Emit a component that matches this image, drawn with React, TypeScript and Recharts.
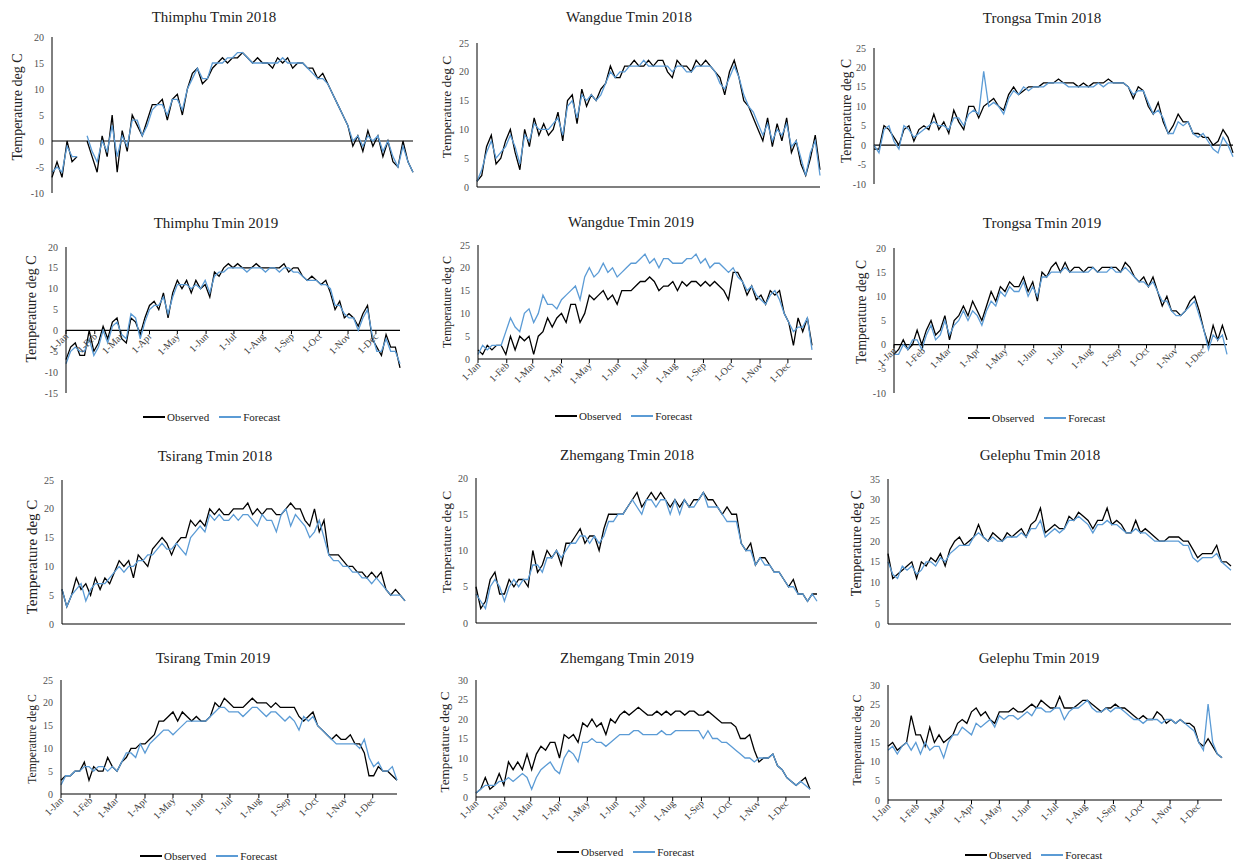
import { LineChart, Line, XAxis, YAxis, ReferenceLine } from 'recharts'

// one reading every 5 days, day 0 = 1-Jan
const STEP = 5
const MONTH_DAYS = [0, 31, 59, 90, 120, 151, 181, 212, 243, 273, 304, 334]
const MONTH_LABELS = ['1-Jan', '1-Feb', '1-Mar', '1-Apr', '1-May', '1-Jun', '1-Jul', '1-Aug', '1-Sep', '1-Oct', '1-Nov', '1-Dec']

const thimphu2018Obs = [
  -7, -4, -7, 0, -4, -3, null, 0, -3, -6,
  1, -3, 5, -6, 2, -2, 5, 3, 1, 4,
  7, 7, 8, 4, 8, 9, 5, 10, 13, 14,
  11, 12, 14, 15, 16, 15, 16, 16, 17, 16,
  15, 16, 15, 15, 14, 16, 15, 16, 14, 15,
  15, 14, 14, 12, 13, 11, 9, 7, 5, 3,
  -1, 1, -2, 2, -1, 1, -3, 0, -4, -5,
  0, -4, -6,
]
const thimphu2018Fc = [
  -6, -5, -6, -1, -3, -3, null, 1, -2, -4,
  0, -2, 3, -3, 1, -1, 4, 4, 1, 3,
  6, 7, 7, 5, 8, 8, 6, 10, 12, 14,
  12, 12, 15, 15, 15, 16, 16, 17, 17, 16,
  15, 15, 15, 15, 15, 15, 16, 15, 15, 15,
  15, 14, 13, 12, 12, 11, 9, 7, 5, 3,
  0, 1, -1, 1, 0, 1, -2, 0, -3, -5,
  -1, -4, -6,
]
const wangdue2018Obs = [
  1, 2, 7, 9, 4, 5, 8, 10, 6, 3,
  10, 7, 12, 9, 11, 9, 10, 13, 8, 15,
  16, 11, 17, 14, 16, 15, 17, 18, 21, 19,
  19, 21, 21, 22, 21, 21, 22, 21, 22, 22,
  20, 19, 22, 21, 21, 20, 22, 21, 22, 21,
  20, 19, 16, 20, 22, 19, 15, 14, 12, 10,
  8, 12, 7, 11, 8, 12, 6, 8, 4, 2,
  5, 9, 3,
]
const wangdue2018Fc = [
  1, 3, 6, 8, 5, 6, 7, 9, 7, 4,
  9, 8, 11, 10, 10, 10, 11, 12, 9, 14,
  15, 12, 16, 15, 16, 15, 16, 18, 20, 19,
  20, 20, 21, 21, 21, 22, 21, 21, 21, 21,
  21, 20, 21, 21, 20, 20, 21, 21, 21, 21,
  20, 18, 17, 19, 21, 19, 16, 14, 13, 11,
  9, 11, 8, 10, 9, 11, 7, 8, 5, 2,
  6, 8, 2,
]
const trongsa2018Obs = [
  -1, -1, 5, 4, 2, 0, 4, 5, 1, 4,
  5, 4, 8, 4, 6, 3, 9, 6, 4, 10,
  10, 7, 10, 11, 12, 10, 9, 13, 15, 13,
  14, 15, 15, 15, 16, 16, 16, 17, 16, 16,
  16, 15, 16, 15, 16, 16, 16, 17, 16, 16,
  16, 15, 12, 15, 14, 10, 8, 11, 6, 3,
  5, 8, 6, 6, 3, 3, 2, 2, 0, 1,
  4, 2, -2,
]
const trongsa2018Fc = [
  0, -2, 4, 5, 1, -1, 5, 4, 2, 3,
  4, 5, 6, 5, 5, 4, 7, 7, 5, 8,
  9, 8, 19, 10, 11, 10, 8, 12, 14, 13,
  15, 14, 15, 15, 15, 16, 16, 16, 16, 15,
  15, 15, 15, 15, 15, 16, 15, 16, 16, 16,
  16, 15, 13, 14, 14, 11, 8, 9, 7, 3,
  3, 6, 5, 6, 3, 2, 3, 1, -1, -2,
  2, 0, -3,
]
const thimphu2019Obs = [
  -7, -4, -3, -6, -6, 0, -5, -3, 1, -2,
  2, 3, -2, -3, 3, 2, -1, 3, 6, 7,
  5, 9, 3, 9, 12, 10, 12, 9, 12, 10,
  11, 8, 14, 13, 15, 16, 15, 16, 15, 15,
  15, 16, 15, 15, 15, 15, 15, 16, 14, 15,
  15, 13, 12, 13, 12, 11, 12, 9, 5, 7,
  3, 4, 3, 1, 4, 6, -2, -4, -6, -1,
  -4, -4, -9,
]
const thimphu2019Fc = [
  -8, -5, -4, -5, -5, -2, -6, -4, 0, -3,
  1, 2, -1, -2, 4, 3, -2, 2, 5, 6,
  6, 8, 4, 8, 11, 11, 11, 10, 11, 10,
  12, 9, 13, 14, 14, 15, 15, 15, 15, 14,
  15, 15, 15, 14, 15, 15, 14, 15, 15, 14,
  14, 13, 12, 12, 12, 11, 11, 10, 6, 6,
  4, 3, 3, 0, 3, 5, -1, -5, -5, -2,
  -5, -5, -8,
]
const wangdue2019Obs = [
  2, 1, 3, 2, 3, 3, 1, 5, 2, 5,
  4, 5, 1, 5, 6, 9, 7, 9, 10, 8,
  12, 12, 8, 10, 14, 13, 14, 15, 13, 14,
  12, 15, 15, 15, 16, 17, 17, 18, 17, 15,
  16, 16, 17, 15, 17, 16, 17, 17, 16, 17,
  16, 17, 16, 15, 13, 19, 19, 17, 14, 16,
  13, 14, 12, 15, 14, 15, 10, 8, 3, 9,
  6, 9, 3,
]
const wangdue2019Fc = [
  1, 3, 2, 3, 3, 3, 6, 9, 7, 6,
  10, 11, 8, 10, 14, 12, 12, 11, 13, 14,
  15, 16, 13, 18, 20, 18, 19, 21, 19, 20,
  18, 19, 20, 21, 21, 22, 23, 21, 22, 20,
  22, 22, 21, 21, 21, 22, 22, 23, 21, 22,
  20, 21, 21, 20, 19, 20, 18, 17, 15, 16,
  14, 13, 12, 14, 15, 13, 10, 8, 6, 7,
  7, 9, 2,
]
const trongsa2019Obs = [
  -2, -1, 1, -1, 0, 3, 0, 3, 5, 2,
  3, 6, 1, 5, 6, 8, 6, 9, 7, 5,
  8, 11, 9, 12, 11, 13, 12, 12, 14, 11,
  13, 9, 15, 14, 16, 17, 15, 17, 15, 16,
  16, 15, 16, 16, 15, 16, 16, 16, 16, 15,
  17, 16, 14, 13, 14, 12, 14, 11, 8, 10,
  7, 7, 6, 7, 9, 10, 7, 3, 0, 4,
  1, 4, 1,
]
const trongsa2019Fc = [
  -2, -2, 0, -1, 1, 1, -1, 2, 4, 1,
  2, 5, 2, 4, 5, 7, 5, 7, 6, 4,
  7, 9, 8, 11, 10, 12, 11, 11, 13, 10,
  12, 10, 14, 14, 15, 15, 15, 16, 15, 15,
  15, 15, 15, 16, 15, 15, 15, 16, 15, 15,
  16, 15, 14, 13, 13, 12, 13, 11, 9, 9,
  7, 6, 6, 7, 8, 9, 6, 3, -1, 2,
  1, 2, -2,
]
const tsirang2018Obs = [
  6, 3, 5, 8, 6, 7, 5, 8, 6, 8,
  7, 9, 11, 10, 11, 8, 12, 11, 10, 13,
  14, 15, 14, 12, 14, 15, 15, 18, 17, 18,
  17, 20, 19, 20, 19, 19, 20, 20, 20, 21,
  19, 20, 19, 20, 20, 19, 19, 20, 21, 20,
  20, 18, 17, 20, 16, 18, 12, 12, 12, 11,
  10, 10, 9, 9, 8, 9, 8, 9, 6, 5,
  6, 5, 4,
]
const tsirang2018Fc = [
  6, 3, 5, 6, 7, 4, 6, 7, 7, 7,
  8, 9, 10, 9, 10, 10, 11, 11, 12, 12,
  13, 14, 13, 13, 14, 13, 12, 15, 16, 17,
  16, 19, 18, 19, 18, 18, 19, 18, 19, 19,
  18, 17, 19, 18, 18, 16, 19, 20, 17, 19,
  18, 17, 15, 16, 18, 15, 12, 11, 11, 10,
  10, 9, 9, 8, 8, 7, 8, 7, 6, 5,
  5, 5, 4,
]
const zhemgang2018Obs = [
  5, 2, 3, 6, 7, 4, 4, 6, 5, 6,
  6, 5, 10, 7, 8, 10, 9, 10, 8, 11,
  11, 12, 13, 11, 12, 12, 10, 13, 15, 15,
  15, 15, 16, 17, 18, 16, 17, 18, 17, 18,
  17, 16, 17, 16, 17, 16, 17, 17, 18, 17,
  17, 16, 15, 16, 15, 15, 11, 10, 11, 8,
  9, 9, 8, 7, 7, 6, 5, 6, 4, 4,
  3, 4, 4,
]
const zhemgang2018Fc = [
  4, 3, 2, 5, 6, 5, 3, 5, 6, 5,
  6, 6, 8, 8, 7, 9, 9, 10, 9, 10,
  11, 11, 12, 12, 11, 12, 11, 12, 14, 14,
  15, 15, 16, 17, 16, 15, 17, 17, 16, 17,
  17, 15, 17, 15, 17, 16, 16, 17, 18, 16,
  16, 16, 15, 14, 14, 14, 11, 10, 10, 8,
  9, 8, 8, 7, 7, 6, 5, 5, 4, 4,
  3, 4, 3,
]
const gelephu2018Obs = [
  17, 11, 12, 13, 14, 15, 11, 15, 14, 16,
  15, 17, 14, 18, 20, 21, 19, 20, 21, 24,
  21, 20, 22, 21, 20, 22, 21, 22, 23, 21,
  24, 25, 28, 22, 23, 24, 23, 23, 26, 25,
  27, 26, 25, 23, 25, 25, 28, 24, 25, 24,
  22, 22, 25, 22, 23, 22, 21, 20, 20, 21,
  21, 21, 20, 20, 18, 16, 17, 17, 17, 19,
  15, 15, 14,
]
const gelephu2018Fc = [
  15, 12, 11, 14, 13, 14, 12, 13, 15, 15,
  14, 16, 15, 17, 18, 19, 19, 19, 21, 22,
  21, 20, 21, 20, 20, 21, 21, 21, 22, 21,
  23, 23, 25, 21, 22, 23, 22, 23, 25, 25,
  26, 25, 24, 22, 24, 24, 25, 24, 24, 23,
  22, 22, 23, 22, 22, 21, 20, 20, 20, 20,
  20, 20, 19, 19, 16, 15, 16, 16, 16, 17,
  15, 14, 13,
]
const tsirang2019Obs = [
  3, 4, 4, 5, 5, 7, 3, 6, 5, 5,
  8, 6, 5, 7, 8, 10, 10, 11, 11, 12,
  13, 16, 16, 17, 18, 16, 18, 17, 16, 17,
  16, 16, 17, 20, 19, 21, 20, 19, 19, 19,
  20, 21, 20, 20, 20, 19, 20, 19, 19, 19,
  19, 17, 16, 17, 18, 15, 14, 13, 12, 13,
  12, 12, 13, 11, 11, 9, 4, 4, 6, 5,
  5, 4, 3,
]
const tsirang2019Fc = [
  2, 4, 4, 5, 5, 6, 6, 5, 6, 6,
  5, 6, 5, 7, 9, 9, 8, 11, 9, 11,
  12, 13, 14, 14, 13, 14, 15, 16, 16, 16,
  16, 16, 17, 18, 19, 19, 18, 18, 18, 17,
  18, 19, 19, 18, 17, 18, 18, 17, 16, 17,
  16, 14, 17, 16, 17, 15, 14, 13, 12, 11,
  11, 11, 11, 11, 10, 12, 8, 6, 7, 5,
  5, 6, 3,
]
const zhemgang2019Obs = [
  1, 2, 5, 2, 3, 6, 3, 9, 7, 9,
  7, 11, 7, 11, 13, 12, 14, 14, 10, 16,
  15, 16, 14, 19, 18, 20, 18, 19, 16, 20,
  19, 21, 22, 21, 22, 23, 22, 21, 21, 22,
  21, 22, 21, 22, 22, 21, 22, 22, 21, 21,
  22, 21, 20, 19, 19, 19, 18, 15, 15, 16,
  12, 9, 10, 10, 11, 8, 7, 5, 4, 3,
  4, 5, 2,
]
const zhemgang2019Fc = [
  1, 2, 3, 3, 3, 4, 4, 5, 4, 5,
  6, 5, 2, 5, 7, 8, 9, 7, 6, 10,
  12, 11, 9, 14, 14, 15, 14, 14, 13, 14,
  15, 16, 16, 16, 17, 17, 16, 16, 16, 16,
  17, 16, 16, 17, 17, 17, 17, 17, 17, 15,
  17, 15, 15, 14, 14, 13, 12, 11, 10, 10,
  9, 10, 10, 10, 11, 8, 7, 5, 4, 3,
  4, 3, 2,
]
const gelephu2019Obs = [
  14, 15, 13, 14, 15, 22, 17, 17, 14, 19,
  15, 17, 15, 16, 17, 20, 21, 20, 23, 24,
  22, 23, 21, 20, 23, 23, 23, 24, 23, 23,
  24, 25, 24, 26, 25, 24, 24, 27, 24, 24,
  24, 25, 26, 26, 25, 24, 23, 24, 24, 25,
  24, 24, 23, 22, 21, 22, 21, 21, 23, 22,
  20, 21, 20, 21, 20, 20, 19, 15, 14, 16,
  14, 12, 11,
]
const gelephu2019Fc = [
  13, 14, 12, 14, 15, 13, 15, 12, 15, 13,
  14, 14, 11, 15, 17, 17, 19, 18, 17, 20,
  19, 20, 21, 19, 22, 21, 22, 22, 21, 22,
  23, 22, 24, 24, 23, 23, 24, 24, 21, 23,
  24, 24, 25, 26, 24, 23, 23, 24, 23, 24,
  24, 23, 22, 21, 21, 20, 21, 21, 21, 20,
  21, 21, 20, 21, 20, 19, 18, 15, 13, 25,
  15, 12, 11,
]

type Series = (number | null)[]

interface Panel {
  title: string
  obs: Series
  fc: Series
  min: number
  max: number
  // plot rectangle on the page
  x0: number
  x1: number
  yTop: number
  yBot: number
  titleX: number
  titleY: number
  labelX: number
  labelY: number
  labelSize: number
  months?: boolean
  legend?: { x: number; y: number }
}

const PANELS: Panel[] = [
  { title: 'Thimphu Tmin 2018', obs: thimphu2018Obs, fc: thimphu2018Fc, min: -10, max: 20, x0: 52, x1: 413, yTop: 37, yBot: 193, titleX: 214, titleY: 17, labelX: 18, labelY: 107, labelSize: 14 },
  { title: 'Wangdue Tmin 2018', obs: wangdue2018Obs, fc: wangdue2018Fc, min: 0, max: 25, x0: 477, x1: 820, yTop: 43, yBot: 187, titleX: 629, titleY: 17, labelX: 447, labelY: 107, labelSize: 13.4 },
  { title: 'Trongsa Tmin 2018', obs: trongsa2018Obs, fc: trongsa2018Fc, min: -10, max: 25, x0: 874, x1: 1233, yTop: 48, yBot: 184, titleX: 1042, titleY: 18, labelX: 847, labelY: 111, labelSize: 13.6 },
  { title: 'Thimphu Tmin 2019', obs: thimphu2019Obs, fc: thimphu2019Fc, min: -15, max: 20, x0: 66, x1: 400, yTop: 247, yBot: 394, titleX: 216, titleY: 223, labelX: 32, labelY: 309, labelSize: 14, months: true, legend: { x: 143, y: 417 } },
  { title: 'Wangdue Tmin 2019', obs: wangdue2019Obs, fc: wangdue2019Fc, min: 0, max: 25, x0: 478, x1: 812, yTop: 245, yBot: 359, titleX: 631, titleY: 222, labelX: 447, labelY: 302, labelSize: 12, months: true, legend: { x: 555, y: 416 } },
  { title: 'Trongsa Tmin 2019', obs: trongsa2019Obs, fc: trongsa2019Fc, min: -10, max: 20, x0: 894, x1: 1227, yTop: 248, yBot: 394, titleX: 1042, titleY: 223, labelX: 862, labelY: 312, labelSize: 13.6, months: true, legend: { x: 968, y: 418 } },
  { title: 'Tsirang Tmin 2018', obs: tsirang2018Obs, fc: tsirang2018Fc, min: 0, max: 25, x0: 62, x1: 405, yTop: 480, yBot: 624, titleX: 215, titleY: 456, labelX: 32, labelY: 557, labelSize: 15 },
  { title: 'Zhemgang Tmin 2018', obs: zhemgang2018Obs, fc: zhemgang2018Fc, min: 0, max: 20, x0: 476, x1: 817, yTop: 478, yBot: 623, titleX: 627, titleY: 455, labelX: 447, labelY: 542, labelSize: 13.4 },
  { title: 'Gelephu Tmin 2018', obs: gelephu2018Obs, fc: gelephu2018Fc, min: 0, max: 35, x0: 888, x1: 1231, yTop: 479, yBot: 624, titleX: 1040, titleY: 455, labelX: 857, labelY: 543, labelSize: 13.9 },
  { title: 'Tsirang Tmin 2019', obs: tsirang2019Obs, fc: tsirang2019Fc, min: 0, max: 25, x0: 61, x1: 397, yTop: 680, yBot: 794, titleX: 213, titleY: 658, labelX: 32, labelY: 739, labelSize: 11.7, months: true, legend: { x: 140, y: 856 } },
  { title: 'Zhemgang Tmin 2019', obs: zhemgang2019Obs, fc: zhemgang2019Fc, min: 0, max: 30, x0: 476, x1: 810, yTop: 680, yBot: 797, titleX: 627, titleY: 658, labelX: 445, labelY: 742, labelSize: 13.2, months: true, legend: { x: 557, y: 852 } },
  { title: 'Gelephu Tmin 2019', obs: gelephu2019Obs, fc: gelephu2019Fc, min: 0, max: 30, x0: 888, x1: 1222, yTop: 685, yBot: 800, titleX: 1039, titleY: 658, labelX: 857, labelY: 740, labelSize: 11.9, months: true, legend: { x: 965, y: 855 } },
]

const FONT = '"Liberation Serif", "Times New Roman", serif'
const OBS_COLOR = '#000000'
const FC_COLOR = '#5b9bd5'
const YW = 34
const MT = 6
const MR = 6
const MB = 8

function MonthTick(props: any) {
  const { x, y, payload, zeroOff } = props
  const label = MONTH_LABELS[MONTH_DAYS.indexOf(payload.value)]
  const yz = y - zeroOff
  return (
    <g>
      <line x1={x} x2={x} y1={yz} y2={yz + 4} stroke="#000" strokeWidth={1} />
      <text
        transform={`translate(${x + 3},${yz + 7}) rotate(-45)`}
        textAnchor="end"
        fontSize={10}
        fill="#404040"
      >
        {label}
      </text>
    </g>
  )
}

function TempPanel({ p }: { p: Panel }) {
  const data = p.obs.map((v, i) => ({ day: i * STEP, obs: v, fc: p.fc[i] }))
  const plotH = p.yBot - p.yTop
  const xh = p.months && p.min === 0 ? 40 : 0
  const mb = xh === 0 ? MB : 0
  const width = YW + (p.x1 - p.x0) + MR
  const height = MT + plotH + xh + mb
  const yTicks: number[] = []
  for (let t = p.min; t <= p.max; t += 5) yTicks.push(t)
  const zeroOff = (plotH * (0 - p.min)) / (p.max - p.min)

  return (
    <>
      <div
        style={{
          position: 'absolute', left: p.titleX, top: p.titleY,
          transform: 'translate(-50%, -50%)', whiteSpace: 'nowrap',
          fontSize: 15, color: '#222',
        }}
      >
        {p.title}
      </div>
      <div
        style={{
          position: 'absolute', left: p.labelX, top: p.labelY,
          transform: 'translate(-50%, -50%) rotate(-90deg)', whiteSpace: 'nowrap',
          fontSize: p.labelSize, color: '#222',
        }}
      >
        Temperature deg C
      </div>
      <div style={{ position: 'absolute', left: p.x0 - YW, top: p.yTop - MT }}>
        <LineChart width={width} height={height} data={data} margin={{ top: MT, right: MR, bottom: mb, left: 0 }}>
          <XAxis
            type="number"
            dataKey="day"
            domain={[0, 360]}
            ticks={MONTH_DAYS}
            interval={0}
            hide={!p.months}
            height={p.months ? Math.max(xh, 1) : 0}
            axisLine={false}
            tickLine={false}
            tickSize={0}
            tickMargin={0}
            tick={(tp: any) => <MonthTick {...tp} zeroOff={zeroOff} />}
          />
          <YAxis
            width={YW}
            domain={[p.min, p.max]}
            ticks={yTicks}
            interval={0}
            tickLine={false}
            tickSize={0}
            tickMargin={8}
            axisLine={{ stroke: '#000' }}
            tick={{ fontSize: 10, fill: '#505050' }}
          />
          <ReferenceLine y={0} stroke="#000" strokeWidth={1.2} />
          <Line type="linear" dataKey="obs" stroke={OBS_COLOR} strokeWidth={1.3} dot={false} isAnimationActive={false} />
          <Line type="linear" dataKey="fc" stroke={FC_COLOR} strokeWidth={1.3} dot={false} isAnimationActive={false} />
        </LineChart>
      </div>
      {p.legend && (
        <div
          style={{
            position: 'absolute', left: p.legend.x, top: p.legend.y,
            transform: 'translateY(-50%)', display: 'flex', alignItems: 'center',
            fontSize: 11, color: '#222', whiteSpace: 'nowrap',
          }}
        >
          <span style={{ display: 'inline-block', width: 22, height: 2, background: OBS_COLOR, marginRight: 2 }} />
          <span style={{ marginRight: 10 }}>Observed</span>
          <span style={{ display: 'inline-block', width: 22, height: 2, background: FC_COLOR, marginRight: 2 }} />
          <span>Forecast</span>
        </div>
      )}
    </>
  )
}

export default function App() {
  return (
    <div
      style={{
        position: 'absolute', left: 0, top: 0, width: 1236, height: 863,
        background: '#fff', fontFamily: FONT, overflow: 'hidden',
      }}
    >
      {PANELS.map((p) => (
        <TempPanel key={p.title} p={p} />
      ))}
    </div>
  )
}
